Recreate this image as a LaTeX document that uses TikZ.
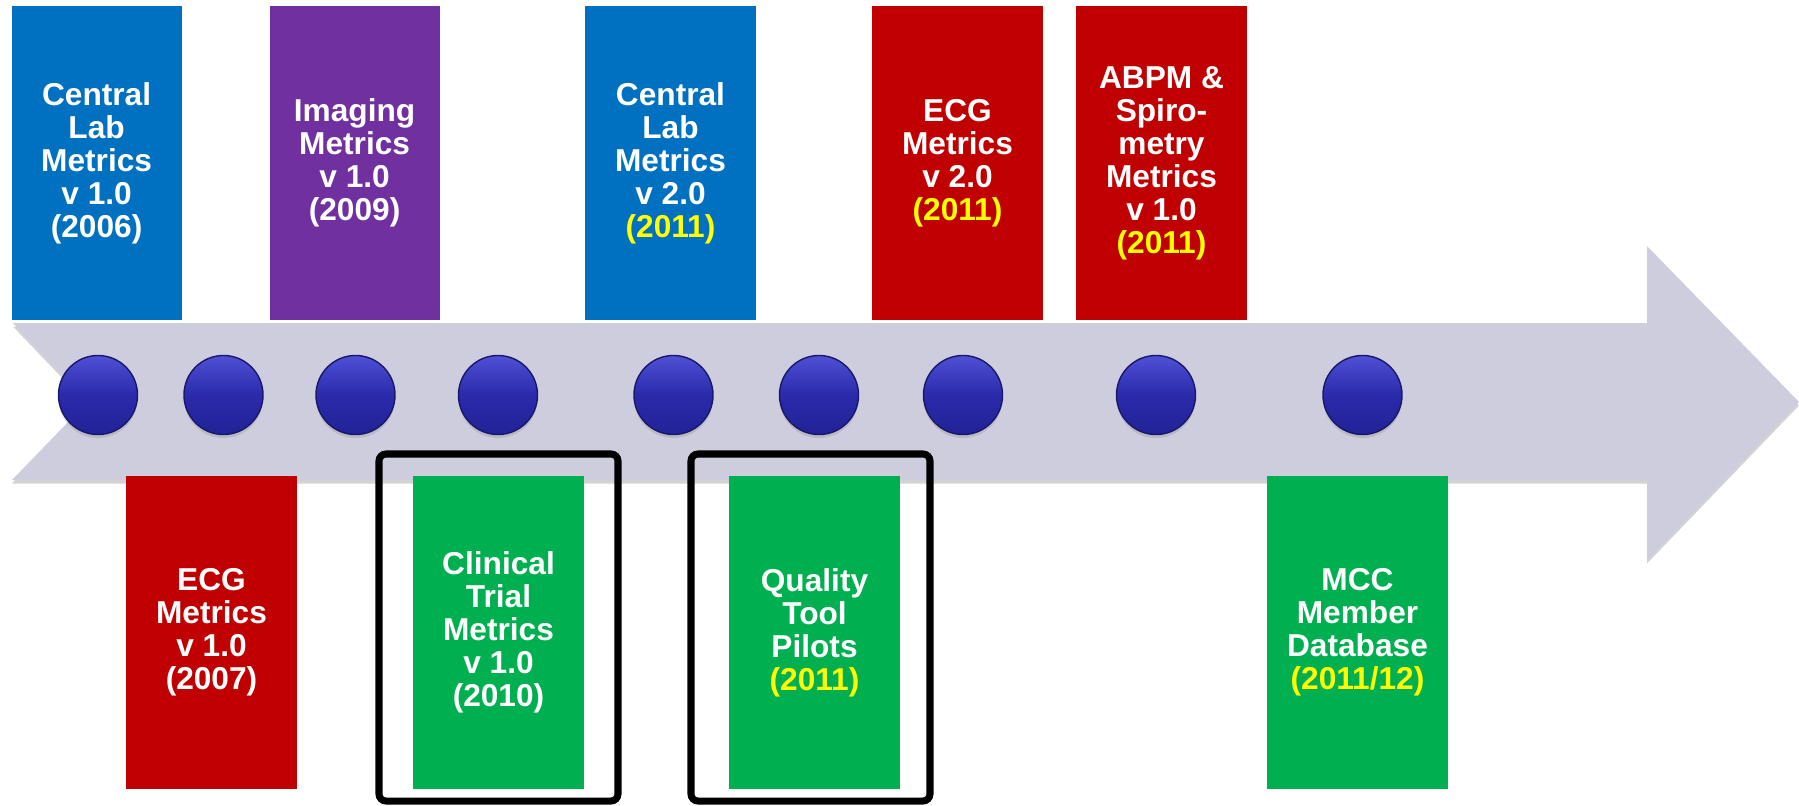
\documentclass[tikz,border=0pt]{standalone}
\usepackage{fontspec}
\setmainfont{Liberation Sans}
\usetikzlibrary{shadows}

\definecolor{cblue}{RGB}{0,112,192}
\definecolor{cpurple}{RGB}{112,48,160}
\definecolor{cred}{RGB}{192,0,0}
\definecolor{cgreen}{RGB}{0,176,80}
\definecolor{cyear}{RGB}{255,255,0}
\definecolor{arrowgray}{RGB}{205,205,222}
\definecolor{dottop}{RGB}{80,80,215}
\definecolor{dotmid}{RGB}{42,42,172}
\definecolor{dotbot}{RGB}{34,34,150}
\definecolor{dotedge}{RGB}{24,24,105}

\tikzset{
  metric/.style={rectangle, minimum width=1.7cm, minimum height=3.13cm, inner sep=0pt,
    text=white, align=center, font=\bfseries\fontsize{9}{9.4}\selectfont},
  milestone/.style={circle, minimum size=0.79cm, inner sep=0pt, draw=dotedge, line width=0.4pt,
    top color=dottop, bottom color=dotbot, middle color=dotmid,
    drop shadow={opacity=0.25, shadow xshift=0pt, shadow yshift=-1pt}},
  pilot/.style={draw=black, line width=2pt, rounded corners=2pt},
}
\newcommand{\yr}[1]{\textcolor{cyear}{#1}}

\begin{document}
\begin{tikzpicture}[x=0.01cm, y=-0.01cm]
  \useasboundingbox (0,0) rectangle (1799,805);

  % timeline arrow
  \fill[arrowgray, drop shadow={opacity=0.35, shadow xshift=0pt, shadow yshift=-1pt}]
    (13,323) -- (1647,323) -- (1647,246) -- (1799,402) -- (1647,560)
    -- (1647,480) -- (12,480) -- (88,401.5) -- cycle;

  % milestones
  \foreach \x [count=\i] in {98,223.5,355.5,498,673.5,819,963,1156,1362.5}
    \node[milestone] (d\i) at (\x,395) {};

  % pilot frames
  \draw[pilot] (379,454) rectangle (618,801);
  \draw[pilot] (691,454) rectangle (930,801);

  % upper boxes
  \node[metric, fill=cblue] (lab1) at (96.6,163) {Central\\Lab\\Metrics\\v 1.0\\(2006)};
  \node[metric, fill=cpurple] (img1) at (354.6,163) {Imaging\\Metrics\\v 1.0\\(2009)};
  \node[metric, fill=cblue] (lab2) at (670.5,163) {Central\\Lab\\Metrics\\v 2.0\\\yr{(2011)}};
  \node[metric, fill=cred] (ecg2) at (957.5,163) {ECG\\Metrics\\v 2.0\\\yr{(2011)}};
  \node[metric, fill=cred] (abpm) at (1161.5,163) {ABPM \&\\Spiro-\\metry\\Metrics\\v 1.0\\\yr{(2011)}};

  % lower boxes
  \node[metric, fill=cred] (ecg1) at (211.5,632.5) {ECG\\Metrics\\v 1.0\\(2007)};
  \node[metric, fill=cgreen] (trial) at (498.5,632.5) {Clinical\\Trial\\Metrics\\v 1.0\\(2010)};
  \node[metric, fill=cgreen] (tool) at (814.5,632.5) {Quality\\Tool\\Pilots\\\yr{(2011)}};
  \node[metric, fill=cgreen, minimum width=1.81cm] (mcc) at (1357.5,632.5) {MCC\\Member\\Database\\\yr{(2011/12)}};
\end{tikzpicture}
\end{document}
